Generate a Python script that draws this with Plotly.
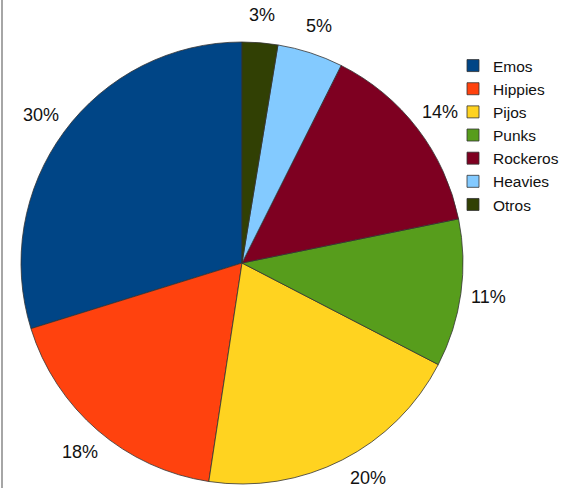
import math
import plotly.graph_objects as go

labels = ["Emos", "Hippies", "Pijos", "Punks", "Rockeros", "Heavies", "Otros"]
values = [29.8, 17.8, 19.8, 10.8, 14.4, 4.8, 2.6]
colors = ["#004586", "#ff420e", "#ffd320", "#579d1c", "#7e0021", "#83caff", "#314004"]

W, H = 570, 488
cx, cy, r = 242, 263, 221
label_r = 249
edge_pad = 10

total = sum(values)
# plotly's counterclockwise layout puts the first slice ending at `rotation`;
# rotate so that the first slice starts at 12 o'clock and runs counterclockwise
rotation = -values[0] / total * 360

fig = go.Figure(go.Pie(
    labels=labels,
    values=values,
    sort=False,
    direction="counterclockwise",
    rotation=rotation,
    marker=dict(colors=colors, line=dict(color="#333333", width=0.8)),
    textinfo="none",
    domain=dict(x=[(cx - r) / W, (cx + r) / W], y=[1 - (cy + r) / H, 1 - (cy - r) / H]),
    showlegend=True,
    hoverinfo="skip",
))

# percentage labels placed outside each slice, at its mid-angle;
# a label that would leave the picture slides along its circle to stay inside
annotations = []
cum = 0.0
for v in values:
    mid = -(cum + v / 2) / total * 2 * math.pi  # clockwise from north (negative = ccw)
    cum += v
    px = cx + label_r * math.sin(mid)
    py = cy - label_r * math.cos(mid)
    if py > H - edge_pad:
        py = H - edge_pad
        dx = math.sqrt(label_r ** 2 - (py - cy) ** 2)
        px = cx + math.copysign(dx, px - cx)
    annotations.append(dict(
        x=px / W, y=1 - py / H, xref="paper", yref="paper",
        text=f"{round(v / total * 100)}%", showarrow=False,
        xanchor="center", yanchor="middle",
        font=dict(family="Liberation Sans", size=18, color="#111111"),
    ))

fig.update_layout(
    width=W, height=H,
    margin=dict(l=0, r=0, t=0, b=0),
    paper_bgcolor="white",
    plot_bgcolor="white",
    font=dict(family="Liberation Sans", size=15.5, color="#111111"),
    legend=dict(x=453 / W, xanchor="left", y=1 - 49 / H, yanchor="top",
                bgcolor="rgba(0,0,0,0)", itemwidth=30, tracegroupgap=0),
    annotations=annotations,
    shapes=[dict(type="line", xref="paper", yref="paper", x0=2 / W, x1=2 / W, y0=0, y1=1,
                 line=dict(color="#888888", width=1.5))],
)

fig.write_html("out.html",
               config={"displayModeBar": False},
               post_script="document.body.style.margin='0';document.body.style.padding='0';")
